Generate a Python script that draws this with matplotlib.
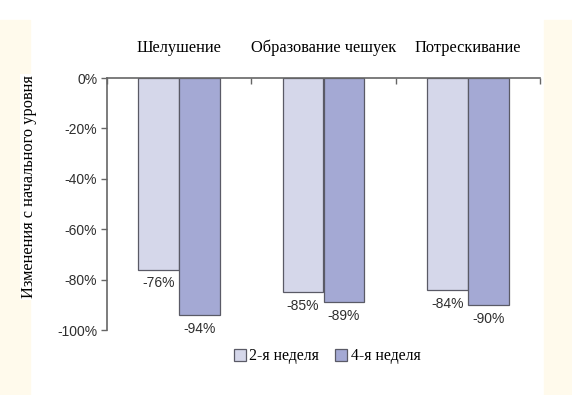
import numpy as np
import matplotlib.pyplot as plt
from matplotlib.patches import Rectangle

#==============
# 1. DATA
#==============
categories = ["Шелушение", "Образование чешуек", "Потрескивание"]
series_names = ["2-я неделя", "4-я неделя"]
week2 = [-76, -85, -84]
week4 = [-94, -89, -90]
y_ticks = [0, -20, -40, -60, -80, -100]
y_label = "Изменения с начального уровня"

col_light = "#d5d7ea"
col_dark = "#a4a9d4"
edge = "#5a5a66"
cream = "#fffaec"

#==============
# 2. FIGURE
#==============
fig = plt.figure(figsize=(5.72, 3.95), dpi=100)
fig.patch.set_facecolor("white")

# cream side strips
fig.patches.append(Rectangle((0.0, 0.0), 30 / 572, 1 - 20 / 395,
                             transform=fig.transFigure, color=cream, zorder=0))
fig.patches.append(Rectangle((544 / 572, 0.0), 28 / 572, 1 - 20 / 395,
                             transform=fig.transFigure, color=cream, zorder=0))

ax = fig.add_axes([107 / 572, 1 - 330 / 395, (540 - 107) / 572, (330 - 78) / 395])
ax.set_facecolor("none")

x = np.arange(len(categories))
w = 0.284
b1 = ax.bar(x - w / 2, week2, w, color=col_light, edgecolor=edge, linewidth=0.9,
            label=series_names[0])
b2 = ax.bar(x + w / 2, week4, w, color=col_dark, edgecolor=edge, linewidth=0.9,
            label=series_names[1])

val_font = dict(family="Liberation Sans", size=10, color="#2e2e2e")
for bars, vals in [(b1, week2), (b2, week4)]:
    for rect, v in zip(bars, vals):
        ax.annotate(f"{v}%", (rect.get_x() + rect.get_width() / 2, v),
                    xytext=(0, -5), textcoords="offset points",
                    ha="center", va="top", **val_font)

ax.set_xlim(-0.5, 2.5)
ax.set_ylim(-100, 0)
ax.set_yticks(y_ticks)
ax.set_yticklabels([f"{t}%" for t in y_ticks], fontfamily="Liberation Sans",
                   fontsize=10, color="#2e2e2e")

# x axis sits on top (0 %), ticks between groups
ax.xaxis.tick_top()
ax.set_xticks([-0.5, 0.5, 1.5, 2.5])
ax.set_xticklabels([])
ax.tick_params(axis="x", direction="in", length=4, color="#666666", width=1)
ax.tick_params(axis="y", direction="out", length=4, color="#666666", width=1, pad=3)

for s in ["right", "bottom"]:
    ax.spines[s].set_visible(False)
for s in ["left", "top"]:
    ax.spines[s].set_color("#666666")
    ax.spines[s].set_linewidth(1.2)

# category titles above the plot
for xi, name in zip(x, categories):
    ax.text(xi, 1.12, name, transform=ax.get_xaxis_transform(), ha="center",
            va="center", family="Liberation Serif", fontsize=11.8, color="black")

fig.text(29 / 572, 1 - 187 / 395, y_label, rotation=90, ha="center", va="center",
         family="Liberation Serif", fontsize=11.8, color="black",
         bbox=dict(facecolor="white", edgecolor="none", pad=1))

leg = fig.legend(handles=[b1, b2], labels=series_names, loc="center",
                 bbox_to_anchor=(327 / 572, 1 - 356 / 395), ncol=2, frameon=False,
                 handlelength=0.8, handleheight=0.8, handletextpad=0.2,
                 columnspacing=1.0, prop=dict(family="Liberation Serif", size=11.3))

fig.savefig("out.png", dpi=100, facecolor="white")
